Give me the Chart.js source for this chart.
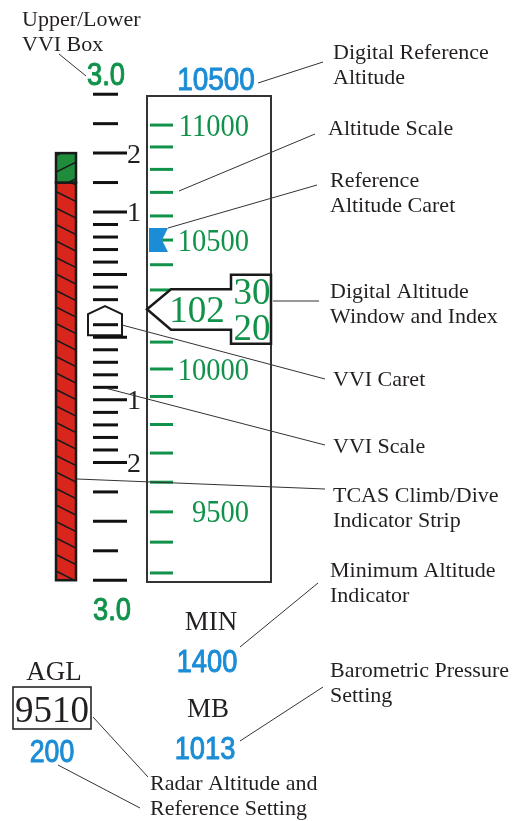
<!DOCTYPE html>
<html>
<head>
<meta charset="utf-8">
<title>Altitude tape and VVI</title>
<script src="https://cdn.jsdelivr.net/npm/chart.js@4.4.0/dist/chart.umd.min.js"></script>
<style>
  html, body { margin: 0; padding: 0; background: #fff; }
  canvas { display: block; }
</style>
</head>
<body>
<canvas id="pfdChart" width="517" height="821"></canvas>
<script>
// altitude tape, feet (10200 sits under the digital window)
const altTicks = [9300, 9400, 9500, 9600, 9700, 9800, 9900, 10000, 10100, 10300, 10400, 10500, 10600, 10700, 10800, 10900, 11000];
const altLabels = [9500, 10000, 10500, 11000];
const refAltitude = 10500;
const currentAltitude = 10225;
const windowDigits = ['102', '30', '20'];

// vertical velocity, thousand ft/min (0.2 is hidden by the caret)
const vviMajorTicks = [2, 1, 0.5, 0, -0.5, -1, -2, -3];
const vviMinorTicks = [3, 2.5, 1.5, 0.9, 0.8, 0.7, 0.6, 0.4, 0.3, 0.1, -0.1, -0.2, -0.3, -0.4, -0.6, -0.7, -0.8, -0.9, -1.5, -2.5];
const vviLabelValues = [2, 1, -0.5, -1];
const vviLabelText = ['2', '1', '1', '2'];
const vviCurrent = 0.1;
const vviLimitText = '3.0';

// TCAS climb/dive strip, on the vvi scale
const tcasClimbBand = [1.5, 2.0];
const tcasDiveBand = [-3, 1.5];

const minAltitude = '1400';
const baroSetting = '1013';
const radarAltitude = '9510';
const radarRefSetting = '200';

const GREEN = '#10924a';
const BLUE = '#1b8dd6';
const INK = '#231f20';
const SERIF = '"Liberation Serif", "Times New Roman", serif';
const SANS = '"Liberation Sans", Arial, sans-serif';

// column layout (px)
const BOX_LEFT = 147, BOX_RIGHT = 271;
const ALT_TICK_X = 161.5;
const VVI_MINOR_X = 105.5, VVI_MAJOR_X = 110;
const STRIP_X = 56, STRIP_W = 20;

// the printed tape opens up a little toward the low end
const TAPE_BOW = 0.2;
// vvi scale is linear to +-1, compressed beyond
const VVI_OUTER = 0.47;

class TapeScale extends Chart.LinearScale {
    static id = 'tape';
    getPixelForValue(value) {
        const t = (value - this.min) / (this.max - this.min);
        return this.getPixelForDecimal(t + TAPE_BOW * t * (1 - t));
    }
}

class VviScale extends Chart.LinearScale {
    static id = 'vvi';
    bend(v) {
        const a = Math.abs(v);
        return Math.sign(v) * (a <= 1 ? a : 1 + (a - 1) * VVI_OUTER);
    }
    getPixelForValue(value) {
        const lo = this.bend(this.min), hi = this.bend(this.max);
        return this.getPixelForDecimal((this.bend(value) - lo) / (hi - lo));
    }
}

Chart.register(TapeScale, VviScale);

const text = (ctx, str, x, y, font, color, align, squeeze, heavy) => {
    ctx.save();
    ctx.font = font;
    ctx.fillStyle = color;
    ctx.textAlign = align || 'left';
    ctx.textBaseline = 'alphabetic';
    ctx.translate(x, y);
    ctx.scale(squeeze || 1, 1);
    ctx.fillText(str, 0, 0);
    if (heavy) {
        ctx.strokeStyle = color;
        ctx.lineWidth = heavy;
        ctx.strokeText(str, 0, 0);
    }
    ctx.restore();
};

// digits centred on a pixel row
const digits = (ctx, str, x, yMid, size, family, color, align, squeeze) => {
    const sans = family === SANS;
    const cap = sans ? 0.72 : 0.68;
    text(ctx, str, x, yMid + size * cap / 2, size + 'px ' + family, color, align, squeeze, sans ? 1 : 0);
};

const poly = (ctx, pts, fill, stroke, width) => {
    ctx.beginPath();
    pts.forEach(([x, y], i) => i ? ctx.lineTo(x, y) : ctx.moveTo(x, y));
    ctx.closePath();
    if (fill) { ctx.fillStyle = fill; ctx.fill(); }
    if (stroke) { ctx.strokeStyle = stroke; ctx.lineWidth = width; ctx.lineJoin = 'miter'; ctx.stroke(); }
};

const drawBand = (ctx, scale, range, fill, dir) => {
    const top = scale.getPixelForValue(range[1]);
    const bottom = scale.getPixelForValue(range[0]);
    ctx.save();
    ctx.fillStyle = fill;
    ctx.fillRect(STRIP_X, top, STRIP_W, bottom - top);
    ctx.beginPath();
    ctx.rect(STRIP_X, top, STRIP_W, bottom - top);
    ctx.clip();
    ctx.strokeStyle = '#1a1a1a';
    ctx.lineWidth = 1.5;
    for (let y = top - 24; y < bottom + 24; y += 16.5) {
        ctx.beginPath();
        ctx.moveTo(STRIP_X, y + (dir > 0 ? 10 : 0));
        ctx.lineTo(STRIP_X + STRIP_W, y + (dir > 0 ? 0 : 10));
        ctx.stroke();
    }
    ctx.restore();
    ctx.strokeStyle = '#1a1a1a';
    ctx.lineWidth = 2.5;
    ctx.strokeRect(STRIP_X, top, STRIP_W, bottom - top);
};

const callouts = [
    { lines: ['Upper/Lower', 'VVI Box'], at: [22, 26], from: [86, 76], to: [59, 54] },
    { lines: ['Digital Reference', 'Altitude'], at: [333, 59], from: [258, 83], to: [323, 62] },
    { lines: ['Altitude Scale'], at: [328, 135], from: [179, 191], to: [315, 134] },
    { lines: ['Reference', 'Altitude Caret'], at: [330, 187], from: [168, 228], to: [317, 185] },
    { lines: ['Digital Altitude', 'Window and Index'], at: [330, 298], from: [273, 301], to: [319, 301] },
    { lines: ['VVI Caret'], at: [333, 386], from: [122, 325], to: [325, 379] },
    { lines: ['VVI Scale'], at: [333, 453], from: [105, 388], to: [325, 445] },
    { lines: ['TCAS Climb/Dive', 'Indicator Strip'], at: [333, 502], from: [77, 479], to: [325, 489] },
    { lines: ['Minimum Altitude', 'Indicator'], at: [330, 577], from: [240, 647], to: [318, 583] },
    { lines: ['Barometric Pressure', 'Setting'], at: [330, 677], from: [240, 741], to: [323, 687] },
    { lines: ['Radar Altitude and', 'Reference Setting'], at: [150, 790], from: [93, 717], to: [148, 777] },
    { lines: [], at: [0, 0], from: [58, 765], to: [140, 808] },
];

const pfdArt = {
    id: 'pfdArt',
    beforeDatasetsDraw(chart) {
        const { ctx, chartArea } = chart;
        const vvi = chart.scales.vvi;

        ctx.save();
        // altitude tape frame
        ctx.fillStyle = '#fff';
        ctx.fillRect(BOX_LEFT, chartArea.top, BOX_RIGHT - BOX_LEFT, chartArea.bottom - chartArea.top);
        ctx.strokeStyle = '#333';
        ctx.lineWidth = 2;
        ctx.strokeRect(BOX_LEFT, chartArea.top, BOX_RIGHT - BOX_LEFT, chartArea.bottom - chartArea.top);

        drawBand(ctx, vvi, tcasDiveBand, '#d8261d', -1);
        drawBand(ctx, vvi, tcasClimbBand, '#1f8c3c', 1);

        // vvi caret
        const q = vvi.getPixelForValue(vviCurrent);
        poly(ctx, [[105, q - 18.5], [122, q - 10.5], [122, q + 10.5], [88, q + 10.5], [88, q - 10.5]], '#fff', '#1a1a1a', 2);
        ctx.restore();
    },
    afterDatasetsDraw(chart) {
        const { ctx } = chart;
        const alt = chart.scales.alt, vvi = chart.scales.vvi;

        ctx.save();
        // digital altitude window
        const p = alt.getPixelForValue(currentAltitude);
        poly(ctx, [
            [BOX_LEFT, p], [171, p - 20], [231, p - 20], [231, p - 34.5], [BOX_RIGHT, p - 34.5],
            [BOX_RIGHT, p + 34.5], [231, p + 34.5], [231, p + 20.5], [171, p + 20.5]
        ], '#fff', '#1a1a1a', 2.5);
        digits(ctx, windowDigits[0], 197, p, 37, SERIF, GREEN, 'center');
        digits(ctx, windowDigits[1], 252, p - 18, 37, SERIF, GREEN, 'center');
        digits(ctx, windowDigits[2], 252, p + 18, 37, SERIF, GREEN, 'center');

        // reference altitude caret
        const r = alt.getPixelForValue(refAltitude);
        poly(ctx, [[149, r - 12], [168, r - 12], [162, r], [168, r + 12], [149, r + 12]], BLUE);

        altLabels.forEach(a => digits(ctx, String(a), 249, alt.getPixelForValue(a), 31, SERIF, GREEN, 'right', 0.92));
        digits(ctx, String(refAltitude), 216, 79, 31, SANS, BLUE, 'center', 0.9);

        vviLabelValues.forEach((v, i) => digits(ctx, vviLabelText[i], 127, vvi.getPixelForValue(v), 28, SERIF, INK, 'left'));
        digits(ctx, vviLimitText, 106, vvi.getPixelForValue(3) - 20, 31, SANS, GREEN, 'center', 0.88);
        digits(ctx, vviLimitText, 112, vvi.getPixelForValue(-3) + 29, 31, SANS, GREEN, 'center', 0.88);

        // lower readouts
        text(ctx, 'MIN', 211, 630, '27px ' + SERIF, INK, 'center');
        digits(ctx, minAltitude, 207, 661, 31, SANS, BLUE, 'center', 0.88);
        text(ctx, 'MB', 208, 717, '27px ' + SERIF, INK, 'center');
        digits(ctx, baroSetting, 205, 748, 31, SANS, BLUE, 'center', 0.88);
        text(ctx, 'AGL', 54, 680, '27px ' + SERIF, INK, 'center');
        ctx.strokeStyle = '#1a1a1a';
        ctx.lineWidth = 1.5;
        ctx.strokeRect(13, 687, 78, 42);
        digits(ctx, radarAltitude, 52, 709, 37, SERIF, INK, 'center');
        digits(ctx, radarRefSetting, 52, 751, 31, SANS, BLUE, 'center', 0.86);

        // callouts
        ctx.strokeStyle = '#333';
        ctx.lineWidth = 1;
        callouts.forEach(c => {
            ctx.beginPath();
            ctx.moveTo(c.from[0], c.from[1]);
            ctx.lineTo(c.to[0], c.to[1]);
            ctx.stroke();
            c.lines.forEach((line, i) => text(ctx, line, c.at[0], c.at[1] + i * 25, '22px ' + SERIF, INK, 'left'));
        });
        ctx.restore();
    }
};

const tickSet = (label, values, x, axis, radius, color) => ({
    label: label,
    data: values.map(v => ({ x: x, y: v })),
    yAxisID: axis,
    pointStyle: 'line',
    pointRadius: radius,
    pointBorderWidth: 3,
    pointBorderColor: color,
    pointBackgroundColor: color,
    showLine: false,
    clip: false,
});

new Chart(document.getElementById('pfdChart'), {
    type: 'scatter',
    data: {
        datasets: [
            tickSet('Altitude', altTicks, ALT_TICK_X, 'alt', 11.5, GREEN),
            tickSet('VVI minor', vviMinorTicks, VVI_MINOR_X, 'vvi', 12.5, '#111'),
            tickSet('VVI major', vviMajorTicks, VVI_MAJOR_X, 'vvi', 17, '#111'),
        ],
    },
    options: {
        responsive: false,
        animation: false,
        events: [],
        layout: { autoPadding: false, padding: { top: 96, bottom: 239, left: 0, right: 0 } },
        plugins: { legend: { display: false }, tooltip: { enabled: false } },
        scales: {
            x: { type: 'linear', min: 0, max: 517, display: false },
            alt: { type: 'tape', position: 'right', min: 9271, max: 11137, bounds: 'data', display: false },
            vvi: { type: 'vvi', position: 'left', min: -3.03, max: 2.97, bounds: 'data', display: false },
        },
    },
    plugins: [pfdArt],
});
</script>
</body>
</html>
